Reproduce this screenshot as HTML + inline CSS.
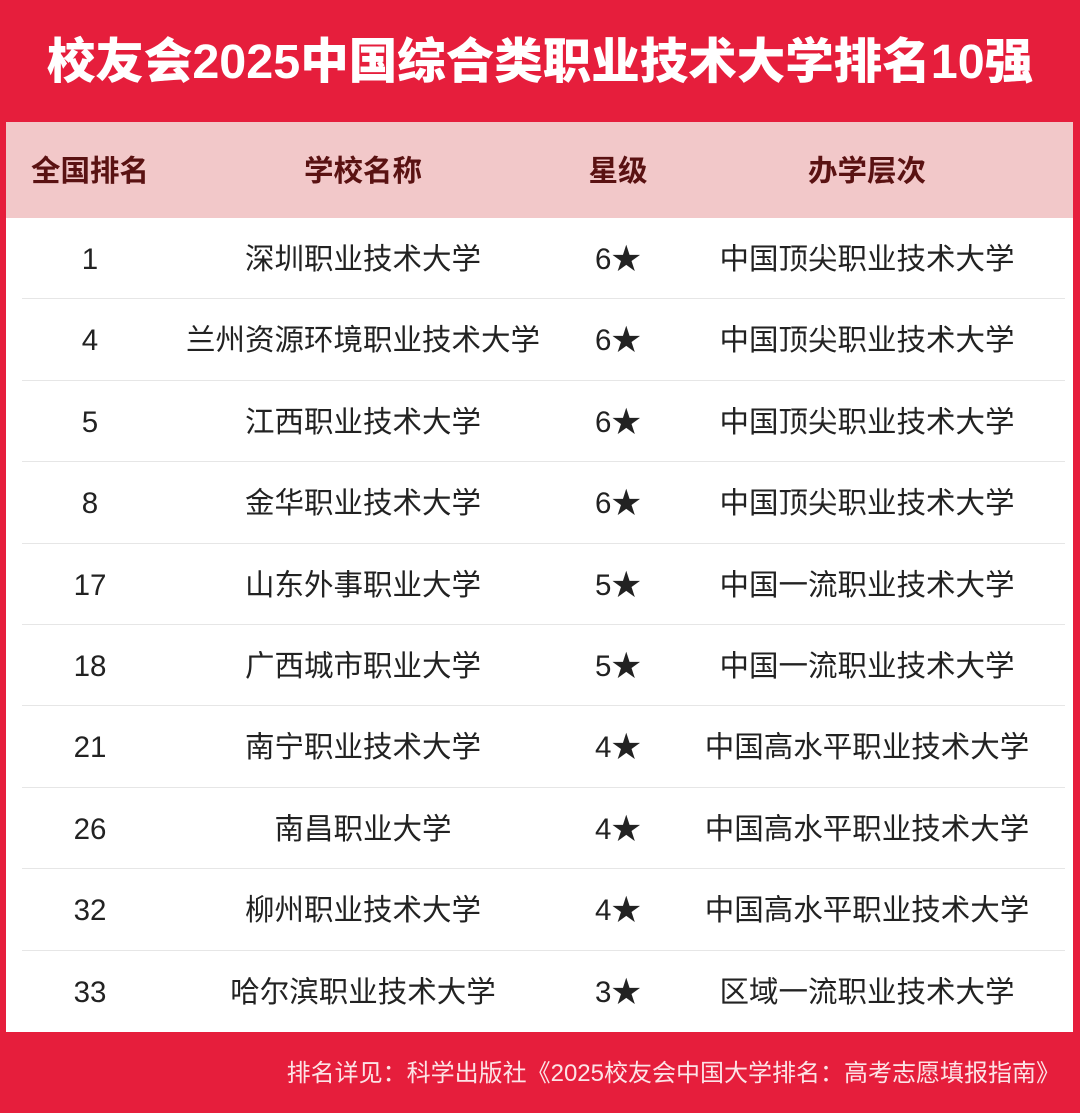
<!DOCTYPE html>
<html><head><meta charset="utf-8"><style>
body{margin:0;width:1080px;height:1113px;background:#E61E3C;position:relative;overflow:hidden;font-family:"Liberation Sans","Noto Sans CJK SC",sans-serif}
.title{position:absolute;top:0;left:0;width:1080px;height:122px;line-height:124px;text-align:center;color:#fff;font-weight:900;font-size:48.5px;white-space:nowrap}
.tbl{position:absolute;left:6px;top:122px;width:1067px;height:910px;background:#fff}
.hd{position:absolute;left:0;top:0;width:1067px;height:96px;background:#F2C8C9}
.c{position:absolute;transform:translateX(-50%);white-space:nowrap}
.hd .c{top:0;line-height:100px;font-size:29.5px;font-weight:bold;color:#5A1212}
.row{position:absolute;left:0;width:1067px;height:81.4px}
.row .c{line-height:84px;font-size:29.5px;color:#222}
.line{position:absolute;left:16px;right:8px;bottom:0;height:1px;background:#e6e6e6}
.foot{position:absolute;right:20px;top:1056px;font-size:24px;color:#FCE3E6;line-height:36px;white-space:nowrap}
</style></head><body>
<div class="title">校友会2025中国综合类职业技术大学排名10强</div>
<div class="tbl">
<div class="hd"><span class="c" style="left:84px">全国排名</span><span class="c" style="left:357px">学校名称</span><span class="c" style="left:612px">星级</span><span class="c" style="left:861px">办学层次</span></div>
<div class="row" style="top:96px"><span class="c" style="left:84px">1</span><span class="c" style="left:357px">深圳职业技术大学</span><span class="c" style="left:612px">6★</span><span class="c" style="left:861px">中国顶尖职业技术大学</span><div class="line"></div></div>
<div class="row" style="top:177.4px"><span class="c" style="left:84px">4</span><span class="c" style="left:357px">兰州资源环境职业技术大学</span><span class="c" style="left:612px">6★</span><span class="c" style="left:861px">中国顶尖职业技术大学</span><div class="line"></div></div>
<div class="row" style="top:258.8px"><span class="c" style="left:84px">5</span><span class="c" style="left:357px">江西职业技术大学</span><span class="c" style="left:612px">6★</span><span class="c" style="left:861px">中国顶尖职业技术大学</span><div class="line"></div></div>
<div class="row" style="top:340.2px"><span class="c" style="left:84px">8</span><span class="c" style="left:357px">金华职业技术大学</span><span class="c" style="left:612px">6★</span><span class="c" style="left:861px">中国顶尖职业技术大学</span><div class="line"></div></div>
<div class="row" style="top:421.6px"><span class="c" style="left:84px">17</span><span class="c" style="left:357px">山东外事职业大学</span><span class="c" style="left:612px">5★</span><span class="c" style="left:861px">中国一流职业技术大学</span><div class="line"></div></div>
<div class="row" style="top:503px"><span class="c" style="left:84px">18</span><span class="c" style="left:357px">广西城市职业大学</span><span class="c" style="left:612px">5★</span><span class="c" style="left:861px">中国一流职业技术大学</span><div class="line"></div></div>
<div class="row" style="top:584.4px"><span class="c" style="left:84px">21</span><span class="c" style="left:357px">南宁职业技术大学</span><span class="c" style="left:612px">4★</span><span class="c" style="left:861px">中国高水平职业技术大学</span><div class="line"></div></div>
<div class="row" style="top:665.8px"><span class="c" style="left:84px">26</span><span class="c" style="left:357px">南昌职业大学</span><span class="c" style="left:612px">4★</span><span class="c" style="left:861px">中国高水平职业技术大学</span><div class="line"></div></div>
<div class="row" style="top:747.2px"><span class="c" style="left:84px">32</span><span class="c" style="left:357px">柳州职业技术大学</span><span class="c" style="left:612px">4★</span><span class="c" style="left:861px">中国高水平职业技术大学</span><div class="line"></div></div>
<div class="row" style="top:828.6px"><span class="c" style="left:84px">33</span><span class="c" style="left:357px">哈尔滨职业技术大学</span><span class="c" style="left:612px">3★</span><span class="c" style="left:861px">区域一流职业技术大学</span></div>
</div>
<div class="foot">排名详见：科学出版社《2025校友会中国大学排名：高考志愿填报指南》</div>
</body></html>
